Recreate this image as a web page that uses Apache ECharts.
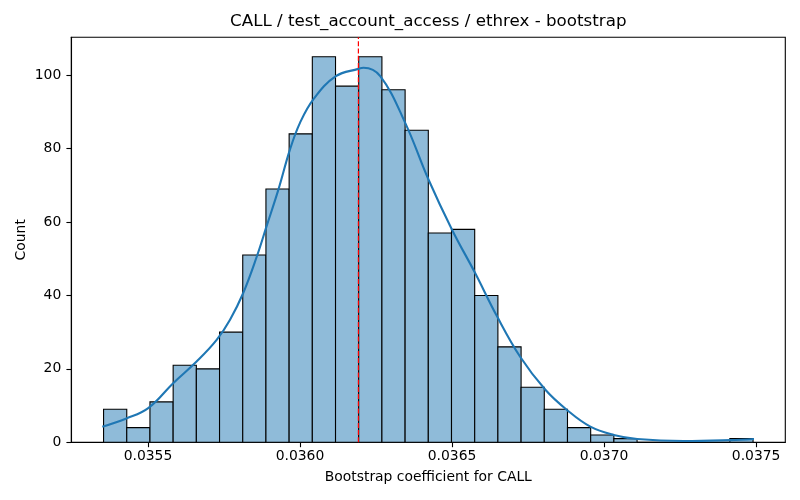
<!DOCTYPE html>
<html>
<head>
<meta charset="utf-8">
<script src="https://cdn.jsdelivr.net/npm/echarts@6/dist/echarts.min.js"></script>
<style>
  html, body { margin: 0; padding: 0; background: #fff; }
  #chart { width: 800px; height: 500px; }
</style>
</head>
<body>
<div id="chart"></div>
<script>
// histogram bins (28 equal bins), counts
var binStart = 0.0353541;
var binWidth = 0.00007628;
var counts = [9, 4, 11, 21, 20, 30, 51, 69, 84, 105, 97, 105, 96, 85,
              57, 58, 40, 26, 15, 9, 4, 2, 1, 0, 0, 0, 0, 1];

// kde curve
var kdeX = [0.035350, 0.035429, 0.035501, 0.035583, 0.035660, 0.035726, 0.035770,
            0.035813, 0.035858, 0.035890, 0.035929, 0.035967, 0.036000, 0.036044,
            0.036118, 0.036192, 0.036209, 0.036264, 0.036346, 0.036423, 0.036500,
            0.036576, 0.036648, 0.036724, 0.036807, 0.036878, 0.036955, 0.037032,
            0.037109, 0.037262, 0.037416, 0.037493];
var kdeY = [4.25, 6.5, 9.3, 16.1, 22, 27.9, 33.4,
            40.6, 50.6, 58.8, 68.8, 79.7, 87, 93.4,
            99.7, 101.7, 102, 99.7, 87, 71.5, 57.9,
            46.1, 34.3, 23.3, 14.3, 8.8, 4.25, 2,
            0.9, 0.35, 0.6, 0.9];

var meanValue = 0.0361921;
var xTicks = [0.0355, 0.0360, 0.0365, 0.0370, 0.0375];
var yTicks = [0, 20, 40, 60, 80, 100];
var yMax = 110.3;

var font = 'DejaVu Sans';

var binData = [];
for (var i = 0; i < counts.length; i++) {
    var lo = binStart + i * binWidth;
    binData.push([lo, lo + binWidth, counts[i]]);
}
var kdeData = [];
for (var j = 0; j < kdeX.length; j++) {
    kdeData.push([kdeX[j], kdeY[j]]);
}

var chart = echarts.init(document.getElementById('chart'));

var option = {
    backgroundColor: '#fff',
    animation: false,
    title: {
        text: 'CALL / test_account_access / ethrex - bootstrap',
        left: 428.3,
        top: 13,
        padding: 0,
        textAlign: 'center',
        textStyle: { fontFamily: font, fontSize: 16.7, fontWeight: 'normal', color: '#000' }
    },
    grid: {
        left: 71.3, right: 14.7, top: 37.3, bottom: 57.7,
        show: true, borderColor: '#000', borderWidth: 1.1, backgroundColor: 'transparent'
    },
    xAxis: {
        type: 'value',
        min: 0.035248,
        max: 0.037596,
        name: 'Bootstrap coefficient for CALL',
        nameLocation: 'middle',
        nameGap: 28,
        nameMoveOverlap: false,
        nameTextStyle: { fontFamily: font, fontSize: 13.9, color: '#000' },
        splitLine: { show: false },
        axisLine: { show: true, lineStyle: { color: '#000', width: 1.1 } },
        axisTick: { show: true, length: 4.9, customValues: xTicks, lineStyle: { color: '#000', width: 1.1 } },
        axisLabel: {
            customValues: xTicks,
            margin: 7,
            fontFamily: font, fontSize: 13.9, color: '#000',
            formatter: function (v) { return v.toFixed(4); }
        }
    },
    yAxis: {
        type: 'value',
        min: 0,
        max: yMax,
        name: 'Count',
        nameLocation: 'middle',
        nameGap: 43,
        nameMoveOverlap: false,
        nameTextStyle: { fontFamily: font, fontSize: 13.9, color: '#000' },
        splitLine: { show: false },
        axisLine: { show: true, lineStyle: { color: '#000', width: 1.1 } },
        axisTick: { show: true, length: 4.9, customValues: yTicks, lineStyle: { color: '#000', width: 1.1 } },
        axisLabel: {
            customValues: yTicks,
            margin: 10,
            fontFamily: font, fontSize: 13.9, color: '#000'
        }
    },
    series: [
        {
            type: 'custom',
            data: binData,
            encode: { x: [0, 1], y: 2 },
            renderItem: function (params, api) {
                var p0 = api.coord([api.value(0), api.value(2)]);
                var p1 = api.coord([api.value(1), 0]);
                return {
                    type: 'rect',
                    shape: { x: p0[0], y: p0[1], width: p1[0] - p0[0], height: p1[1] - p0[1] },
                    style: { fill: '#8fbbd9', stroke: '#000', lineWidth: 1.1 }
                };
            },
            z: 2
        },
        {
            type: 'line',
            data: kdeData,
            smooth: 0.4,
            showSymbol: false,
            lineStyle: { color: '#1f77b4', width: 2.1 },
            z: 3
        },
        {
            // mean marker
            type: 'line',
            data: [[meanValue, 0], [meanValue, yMax]],
            showSymbol: false,
            lineStyle: { color: '#ff0000', type: [5, 2.2], width: 1.2 },
            z: 4
        }
    ]
};

chart.setOption(option);
window.onresize = function () { chart.resize(); };
</script>
</body>
</html>
